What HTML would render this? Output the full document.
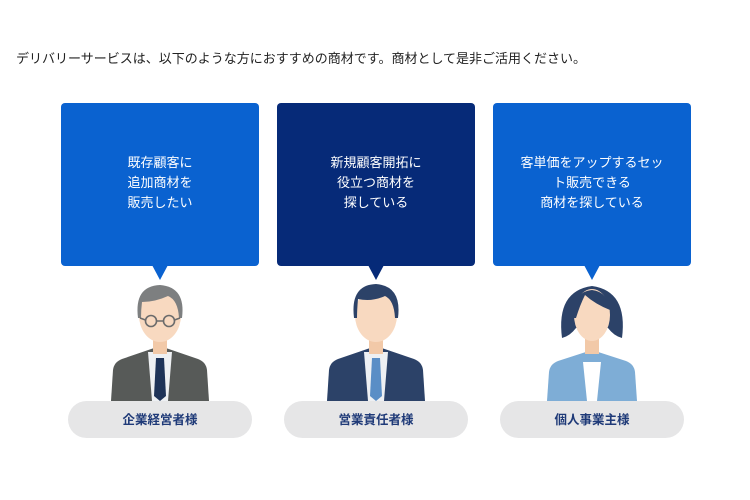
<!DOCTYPE html>
<html><head><meta charset="utf-8"><style>
body{margin:0;background:#fff;width:750px;height:500px;overflow:hidden;font-family:"Liberation Sans","Noto Sans CJK JP",sans-serif}
svg{position:absolute;left:0;top:0}
</style></head><body>
<svg width="750" height="500" viewBox="0 0 750 500" font-family="Liberation Sans, Noto Sans CJK JP, sans-serif">
<text x="16" y="63" font-size="13" fill="#222">デリバリーサービスは、以下のような方におすすめの商材です。商材として是非ご活用ください。</text>

<rect x="61" y="103" width="198" height="163" rx="4" fill="#0a62d0"/>
<polygon points="152,265 168,265 160,280" fill="#0a62d0"/>
<rect x="277" y="103" width="198" height="163" rx="4" fill="#062a78"/>
<polygon points="368,265 384,265 376,280" fill="#062a78"/>
<rect x="493" y="103" width="198" height="163" rx="4" fill="#0a62d0"/>
<polygon points="584,265 600,265 592,280" fill="#0a62d0"/>

<g fill="#fff" font-size="13" text-anchor="middle">
<text x="160" y="167">既存顧客に</text><text x="160" y="187">追加商材を</text><text x="160" y="207">販売したい</text>
<text x="376" y="167">新規顧客開拓に</text><text x="376" y="187">役立つ商材を</text><text x="376" y="207">探している</text>
<text x="592" y="167">客単価をアップするセッ</text><text x="592" y="187">ト販売できる</text><text x="592" y="207">商材を探している</text>
</g>

<!-- person 1 -->
<path d="M111 401 L113 370 Q114 362 122 359 L160 346 L198 359 Q206 362 207 370 L209 401Z" fill="#575a58"/>
<path d="M148 352 L172 352 L168 401 L152 401Z" fill="#eef0f3"/>
<rect x="153" y="336" width="14" height="18" fill="#f2c9a8"/>
<path d="M156 358 L164 358 L166 396 L160 401 L154 396Z" fill="#1e3358"/>
<ellipse cx="160" cy="315" rx="21" ry="27" fill="#f8d9c0"/>
<path d="M138 318 Q134 286 160 285 Q186 287 182 318 L179 318 Q178 300 168 296 Q155 302 142 302 Q141 310 141 318Z" fill="#7d7f80"/>
<g fill="none" stroke="#6b6b6b" stroke-width="1.6"><circle cx="151" cy="321" r="5.5"/><circle cx="169" cy="321" r="5.5"/><path d="M156.5 321 H163.5 M145.5 320 L140 318 M174.5 320 L180 318"/></g>

<!-- person 2 -->
<path d="M327 401 L329 370 Q330 362 338 359 L376 346 L414 359 Q422 362 423 370 L425 401Z" fill="#2c4268"/>
<path d="M364 352 L388 352 L384 401 L368 401Z" fill="#eef0f3"/>
<rect x="369" y="336" width="14" height="18" fill="#f2c9a8"/>
<path d="M372 358 L380 358 L382 396 L376 401 L370 396Z" fill="#5a8ec6"/>
<ellipse cx="376" cy="315" rx="21" ry="27" fill="#f8d9c0"/>
<path d="M354 318 Q350 285 376 284 Q402 286 398 318 L395 318 Q394 300 385 296 Q372 302 358 299 Q357 310 357 318Z" fill="#2c4268"/>

<!-- person 3 -->
<path d="M562 338 Q556 291 592 286 Q628 291 622 338 Q614 336 608 328 L576 328 Q570 336 562 338Z" fill="#2c4268"/>
<path d="M547 401 L549 372 Q550 364 558 361 L592 350 L626 361 Q634 364 635 372 L637 401Z" fill="#7eadd6"/>
<path d="M583 362 L601 362 L597 401 L587 401Z" fill="#fff"/>
<rect x="585" y="336" width="14" height="18" fill="#f2c9a8"/>
<ellipse cx="592" cy="315" rx="18" ry="26" fill="#f8d9c0"/>
<path d="M574 318 Q572 292 592 290 Q608 292 610 310 Q595 304 585 295 Q580 305 576 318Z" fill="#2c4268"/>

<rect x="68" y="401" width="184" height="37" rx="18.5" fill="#e6e6e7"/>
<rect x="284" y="401" width="184" height="37" rx="18.5" fill="#e6e6e7"/>
<rect x="500" y="401" width="184" height="37" rx="18.5" fill="#e6e6e7"/>
<g fill="#1f3a78" font-size="12.5" font-weight="bold" text-anchor="middle">
<text x="160" y="424">企業経営者様</text>
<text x="376" y="424">営業責任者様</text>
<text x="592" y="424">個人事業主様</text>
</g>
</svg>
</body></html>
